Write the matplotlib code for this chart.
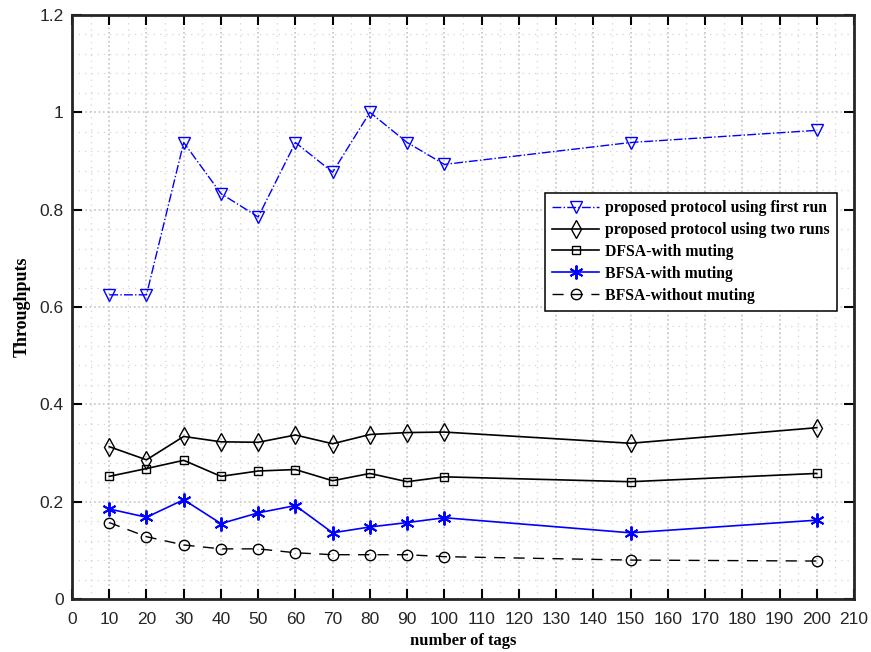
import matplotlib.pyplot as plt
import numpy as np
from matplotlib.ticker import MultipleLocator

tags = [10, 20, 30, 40, 50, 60, 70, 80, 90, 100, 150, 200]

first_run = [0.625, 0.625, 0.938, 0.833, 0.785, 0.938, 0.877, 1.0, 0.938, 0.893, 0.938, 0.963]
two_runs = [0.313, 0.286, 0.334, 0.323, 0.322, 0.337, 0.319, 0.338, 0.342, 0.343, 0.320, 0.352]
dfsa_mute = [0.252, 0.268, 0.285, 0.252, 0.263, 0.266, 0.243, 0.258, 0.241, 0.251, 0.241, 0.258]
bfsa_mute = [0.185, 0.168, 0.204, 0.155, 0.177, 0.192, 0.136, 0.148, 0.157, 0.167, 0.136, 0.162]
bfsa_nomute = [0.157, 0.128, 0.111, 0.103, 0.103, 0.095, 0.091, 0.091, 0.091, 0.087, 0.080, 0.078]

labels = ['proposed protocol using first run', 'proposed protocol using two runs',
          'DFSA-with muting', 'BFSA-with muting', 'BFSA-without muting']

fig = plt.figure(figsize=(8.71, 6.52), dpi=100)
ax = fig.add_axes([72/871, 1-599/652, (854-72)/871, (599-15)/652])

ax.plot(tags, first_run, color='#0000ff', ls='-.', lw=1, marker='v', ms=9,
        mfc='none', mec='#0000ff', label=labels[0])
ax.plot(tags, two_runs, color='black', ls='-', lw=1.2, marker='d', ms=9,
        mfc='none', mec='black', label=labels[1])
ax.plot(tags, dfsa_mute, color='black', ls='-', lw=1.2, marker='s', ms=6,
        mfc='none', mec='black', label=labels[2])
ax.plot(tags, bfsa_mute, color='#0000ff', ls='-', lw=1.2, marker=(6, 2, 0), ms=10,
        mec='#0000ff', mew=1.4, label=labels[3])
ax.plot(tags, bfsa_nomute, color='black', ls=(0, (8, 6)), lw=1, marker='o', ms=7.5,
        mfc='none', mec='black', label=labels[4])

ax.set_xlim(0, 210)
ax.set_ylim(0, 1.2)
ax.xaxis.set_major_locator(MultipleLocator(10))
ax.xaxis.set_minor_locator(MultipleLocator(5))
ax.yaxis.set_minor_locator(MultipleLocator(0.04))
ax.set_yticks(np.arange(0, 1.21, 0.2))
ax.set_yticklabels(['0', '0.2', '0.4', '0.6', '0.8', '1', '1.2'])

ax.grid(which='major', color='#c4c4c4', ls=':', lw=1.2)
ax.grid(which='minor', color='#d4d4d4', ls=(0, (1, 4)), lw=0.9)
ax.set_axisbelow(True)

ax.tick_params(which='major', direction='in', length=7.5, width=1.5, top=True, right=True,
               labelsize=12.5, labelcolor='#262626')
ax.tick_params(axis='x', pad=9)
ax.tick_params(axis='y', pad=6)
ax.tick_params(which='minor', length=0)
for lab in ax.get_xticklabels() + ax.get_yticklabels():
    lab.set_family('Liberation Sans')
for s in ax.spines.values():
    s.set_linewidth(2)
    s.set_color('#262626')

ax.set_xlabel('number of tags', family='Liberation Serif', fontweight='bold', fontsize=12, labelpad=5)
ax.set_ylabel('Throughputs', family='Liberation Serif', fontweight='bold', fontsize=13, labelpad=6)

leg = ax.legend(loc='upper left', bbox_to_anchor=((545-72)/782, (599-193)/584),
                prop={'family': 'Liberation Serif', 'weight': 'bold', 'size': 11.3},
                frameon=True, fancybox=False, edgecolor='black', framealpha=1,
                handlelength=3.0, borderpad=0.45, labelspacing=0.38, handletextpad=0.4,
                borderaxespad=0)
leg.get_frame().set_linewidth(1.1)

fig.savefig('out.png', dpi=100)
